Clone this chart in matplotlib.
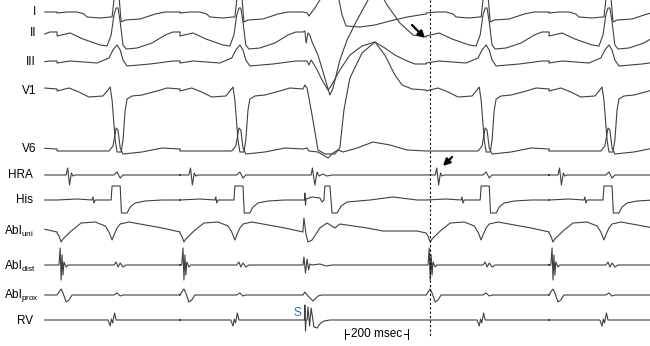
import matplotlib
matplotlib.use("Agg")
import matplotlib.pyplot as plt

plt.rcParams['font.family'] = ['Liberation Sans', 'DejaVu Sans']
plt.rcParams['mathtext.default'] = 'regular'

# czasy pobudzen komor (ms), cykl prawidlowy ~394 ms
beat_times = [-157, 237, 630, 1418, 1811]

# szablon jednego cyklu prawidlowego: czas wzgledem QRS (ms), amplituda (mV)
lead1_t = [-192, -160, -128, -106, -96, -54, -22, -16, 0, 13, 26, 74, 122, 154, 202]
lead1_a = [0.4, 0.5, 0.5, 0.3, 0, -0.1, 0, 0, 4.5, -0.5, -0.3, -0.2, 0.3, 0.5, 0.5]
lead2_t = [-192, -150, -109, -54, -32, -19, -10, -3, 3, 10, 19, 29, 64, 112, 154, 179, 202]
lead2_a = [0.9, 1.2, 0.6, 0, -0.1, 1.0, 3.0, 3.7, 3.7, 2.3, 0, -0.4, -0.3, 0.2, 1.0, 1.3, 1.3]
lead3_t = [-192, -150, -64, -26, -13, 0, 10, 19, 32, 106, 179, 202]
lead3_a = [-0.1, 0.1, -0.1, 0.4, 1.2, 1.7, 1.2, 0.2, -0.4, -0.2, 0.1, 0.1]
v1_t = [-192, -154, -122, -90, -45, -29, -22, -16, -6, 0, 13, 19, 26, 32, 48, 80, 128, 160, 202]
v1_a = [-0.1, 0.2, -0.2, -0.7, -0.6, 0, 0.3, -1.0, -5.0, -6.2, -6.2, -5.0, -2.0, -0.9, -0.6, -0.5, -0.1, 0.2, 0.1]
v6_t = [-192, -96, -26, -13, -3, 3, 10, 19, 80, 144, 202]
v6_a = [-0.1, -0.1, -0.1, 0.4, 2.2, 2.0, 0.2, -0.4, -0.2, 0.2, 0.1]
hra_t = [-192, -163, -158, -152, -146, -141, -134, -10, 0, 10, 19, 202]
hra_a = [0, 0, 0.7, -1.0, 0.2, -0.1, 0, 0, 0.3, -0.3, 0, 0]
his_t = [-192, -128, -80, -77, -74, -70, -19, -16, 10, 14, 32, 42, 58, 90, 144, 202]
his_a = [0, 0.1, 0, 0.3, -0.3, 0, 0, 1.4, 1.4, -1.3, -1.3, -0.7, -0.3, -0.1, 0, 0]
uni_t = [-192, -186, -179, -173, -160, -147, -115, -70, -38, -26, -16, -10, 0, 10, 38, 144, 202]
uni_a = [-0.8, -1.1, -1.7, -1.4, -1.0, -0.6, 0.2, 0.3, -0.1, -0.7, -1.5, -1.0, -0.3, 0.1, 0.3, -0.3, -0.7]
dist_t = [-192, -186, -182, -179, -176, -173, -170, -163, -157, -10, -3, 3, 10, 19, 29, 202]
dist_a = [0, 0, 1.7, -1.5, 1.0, -1.0, 0.3, -0.2, 0, 0, 0.3, -0.2, 0.2, -0.2, 0, 0]
prox_t = [-192, -186, -179, -173, -163, -154, -144, -10, 0, 10, 19, 202]
prox_a = [0, 0.3, 0.6, 0.2, -0.7, -0.5, 0, 0, 0.2, -0.1, 0, 0]
rv_t = [-192, -29, -22, -18, -14, -8, -3, 202]
rv_a = [0, 0, -0.6, 0.1, -0.3, 0.7, 0, 0]

# pobudzenie stymulowane (S) - czas bezwzgledny (ms), amplituda (mV)
lead1_pt = [832, 845, 851, 858, 870, 886, 915, 944, 957, 970, 1014, 1062, 1110, 1165, 1226]
lead1_pa = [0.5, 0.4, 0.1, 0.4, 0.9, 1.7, 4.2, 2.2, 0.2, -0.9, -1.0, -0.8, -0.4, 0, 0.3]
lead2_pt = [832, 838, 842, 848, 854, 861, 880, 899, 918, 928, 950, 973, 1005, 1040, 1062, 1078, 1101, 1142, 1184, 1226]
lead2_pa = [1.3, 1.4, 0.2, 1.2, 1.0, 0.3, -1.0, -3.0, -5.0, -4.3, -1.5, 0.5, 2.5, 4.5, 5.7, 5.3, 4.0, 2.2, 1.0, 0.8]
lead3_pt = [832, 845, 851, 858, 874, 893, 912, 922, 950, 982, 1021, 1062, 1094, 1126, 1158, 1190, 1226]
lead3_pa = [0.1, 0.1, -0.3, 0.2, -0.6, -1.8, -2.8, -2.4, -0.8, 0.7, 1.6, 2.0, 1.4, 0.7, 0.2, -0.2, -0.2]
v1_pt = [832, 838, 845, 861, 880, 902, 934, 950, 963, 982, 1021, 1062, 1094, 1126, 1149, 1181, 1226]
v1_pa = [0.1, 0.5, 0.2, -2.5, -6.0, -6.4, -6.4, -5.8, -2.0, 1.2, 3.7, 4.8, 3.5, 1.5, 0.5, 0.1, 0]
v6_pt = [832, 845, 851, 880, 896, 912, 928, 944, 960, 1005, 1056, 1110, 1165, 1226]
v6_pa = [0.1, 0.2, -0.1, -0.2, -0.5, -0.8, -0.3, 0, -0.2, 0.2, 0.8, 0.5, 0, -0.1]
hra_pt = [832, 858, 862, 870, 877, 883, 896, 909, 925, 1226]
hra_pa = [0, 0, 0.7, -1.0, 0.3, -0.1, 0.1, -0.1, 0, 0]
his_pt = [832, 837, 838, 840, 842, 861, 886, 893, 899, 902, 918, 925, 941, 954, 973, 1046, 1120, 1197, 1226]
his_pa = [0, 0, 0.7, -0.5, 0.1, 0.3, 0.2, -0.2, 0, 1.4, 1.4, -1.3, -1.3, -0.6, -0.2, 0, 0.3, 0, 0]
uni_pt = [832, 835, 842, 848, 861, 886, 909, 934, 950, 1037, 1088, 1197, 1226]
uni_pa = [-0.5, 0.7, -1.0, -1.7, -1.5, -0.3, 0.2, -0.3, 0.1, -0.3, -0.6, -0.6, -0.8]
dist_pt = [832, 835, 840, 845, 850, 854, 861, 886, 906, 925, 1226]
dist_pa = [0, 0.8, -0.8, 0.6, -0.5, 0.1, 0, 0.1, -0.1, 0, 0]
prox_pt = [832, 838, 848, 864, 880, 893, 1226]
prox_pa = [0, 0.3, -0.1, -0.6, -0.1, 0, 0]
rv_pt = [832, 837, 838, 840, 842, 845, 848, 853, 858, 867, 877, 886, 899, 918, 1226]
rv_pa = [0, 0, 1.5, -1.1, 0, 0, 1.3, -0.6, 1.2, -0.7, -0.8, -0.4, -0.1, 0, 0]

labels = ["I", "II", "III", "V1", "V6", "HRA", "His",
          "Abl$_{uni}$", "Abl$_{dist}$", "Abl$_{prox}$", "RV"]

# uklad: polozenie linii bazowej (px od gory), polozenie etykiety
baselines = [17, 45, 62, 90, 150, 175, 200, 225, 265, 295, 320]
label_y = [12, 33, 62, 91, 149, 175, 200, 231, 266, 295, 321]
gain = 10.0  # px na mV
ms_per_px = 3.2
x0_px = 43

templates = [(lead1_t, lead1_a, lead1_pt, lead1_pa), (lead2_t, lead2_a, lead2_pt, lead2_pa),
             (lead3_t, lead3_a, lead3_pt, lead3_pa), (v1_t, v1_a, v1_pt, v1_pa),
             (v6_t, v6_a, v6_pt, v6_pa), (hra_t, hra_a, hra_pt, hra_pa),
             (his_t, his_a, his_pt, his_pa), (uni_t, uni_a, uni_pt, uni_pa),
             (dist_t, dist_a, dist_pt, dist_pa), (prox_t, prox_a, prox_pt, prox_pa),
             (rv_t, rv_a, rv_pt, rv_pa)]

fig = plt.figure(figsize=(6.5, 3.46), dpi=100)
ax = fig.add_axes([0, 0, 1, 1])
ax.set_xlim(-x0_px * ms_per_px, (650 - x0_px) * ms_per_px)
ax.set_ylim(346, 0)
ax.axis('off')

def px(x):
    return (x - x0_px) * ms_per_px

for (tt, aa, pt, pa), base in zip(templates, baselines):
    xs, ys = [], []
    for i, b in enumerate(beat_times):
        xs += [b + t for t in tt]
        ys += [base - a * gain for a in aa]
        if i == 2:
            xs += pt
            ys += [base - a * gain for a in pa]
    keep = [k for k, x in enumerate(xs) if x >= 0]
    first = keep[0]
    ax.plot(xs[first - 1:], ys[first - 1:], color='#404040', lw=0.8,
            solid_joinstyle='round', clip_on=True)

# maskowanie przed poczatkiem zapisu
ax.axvspan(px(0), px(x0_px), color='white', zorder=2)

for i, (lab, ly) in enumerate(zip(labels, label_y)):
    if lab.startswith("Abl"):
        ax.text(px(4), ly, lab, ha='left', va='center', fontsize=8.5, zorder=3)
    elif lab in ("HRA", "His", "RV"):
        ax.text(px(33), ly, lab, ha='right', va='center', fontsize=8.5, zorder=3)
    else:
        ax.text(px(36), ly, lab, ha='right', va='center', fontsize=8.5, zorder=3)

# linia przerywana
ax.plot([px(430), px(430)], [0, 337], color='black', lw=0.8, ls=(0, (2, 2)))

# strzalki
ax.annotate("", xy=(px(427), 40), xytext=(px(410), 23),
            arrowprops=dict(arrowstyle='-|>', lw=1.6, color='black', mutation_scale=10))
ax.annotate("", xy=(px(441), 168), xytext=(px(454), 155),
            arrowprops=dict(arrowstyle='-|>', lw=1.6, color='black', mutation_scale=10))

# S
ax.text(px(297), 313, "S", color='#2f6db5', fontsize=8.5, ha='center', va='center')

# skala 200 msec
sb_left = px(345)
sb_y = 334
ax.plot([sb_left, sb_left], [sb_y - 5, sb_y + 5], color='black', lw=0.7)
ax.plot([sb_left + 200, sb_left + 200], [sb_y - 5, sb_y + 5], color='black', lw=0.7)
ax.plot([sb_left, sb_left + 12], [sb_y, sb_y], color='black', lw=0.7)
ax.plot([sb_left + 188, sb_left + 200], [sb_y, sb_y], color='black', lw=0.7)
ax.text(sb_left + 100, sb_y, "200 msec", ha='center', va='center', fontsize=8.5,
        bbox=dict(facecolor='white', edgecolor='none', pad=0.5))

fig.savefig("out.png", dpi=100)
